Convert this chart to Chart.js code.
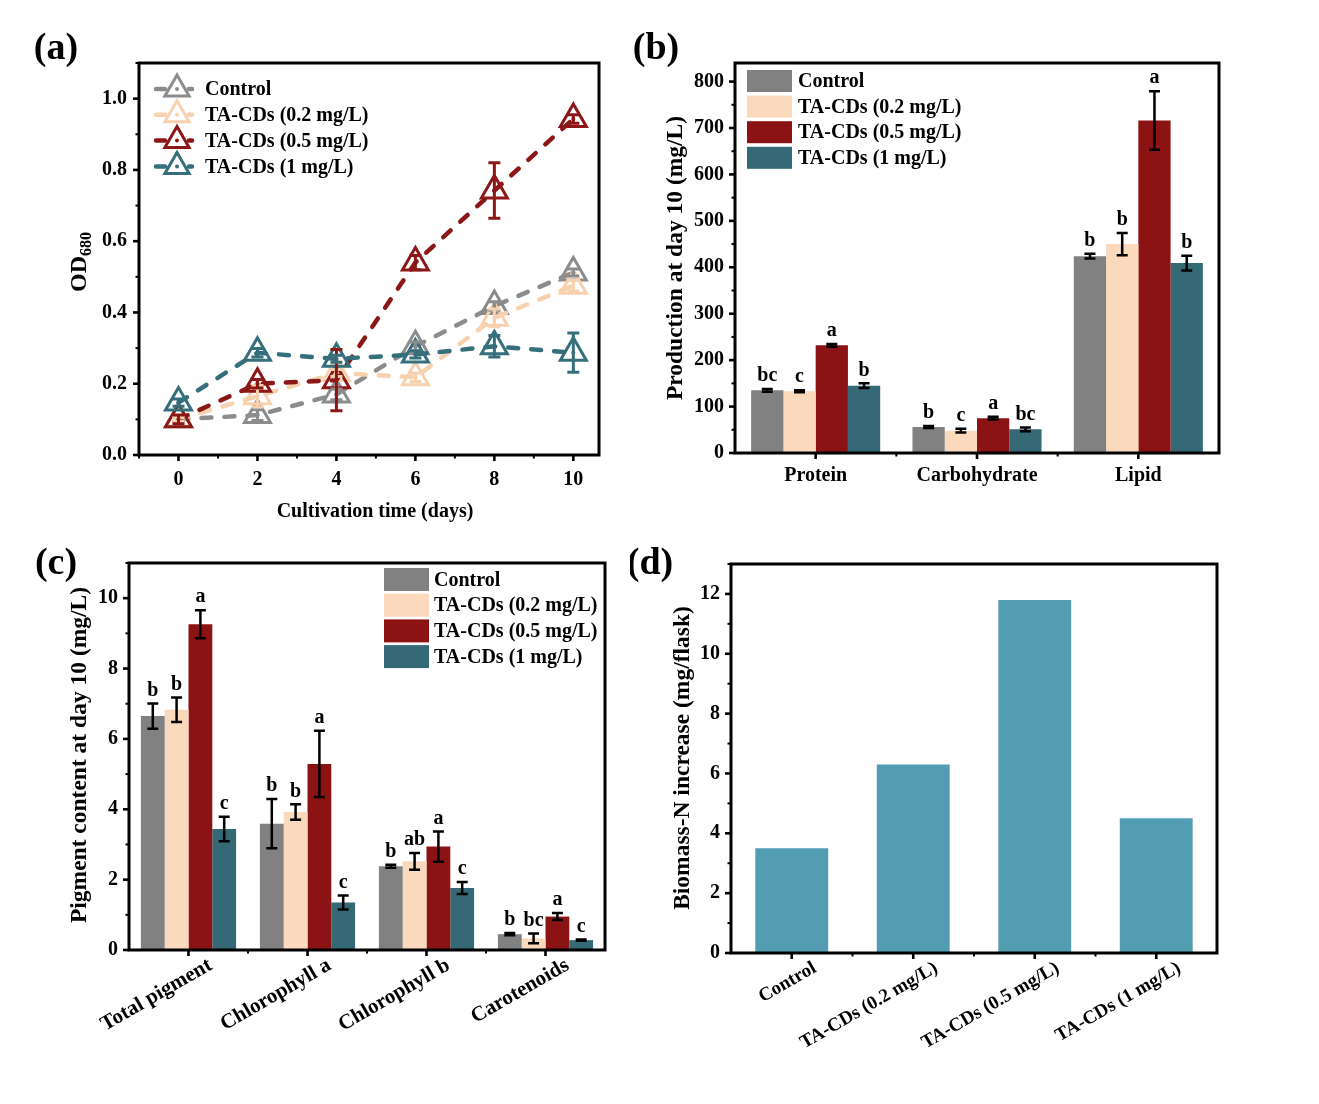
<!DOCTYPE html>
<html>
<head>
<meta charset="utf-8">
<title>TA-CDs growth and composition</title>
<script src="https://cdn.jsdelivr.net/npm/chart.js@4.4.1/dist/chart.umd.min.js"></script>
<style>
  html, body { margin: 0; padding: 0; background: #fff; }
  #figure { position: relative; width: 1319px; height: 1104px; overflow: hidden; background: #fff; }
  #figure canvas { position: absolute; }
</style>
</head>
<body>
<div id="figure">
  <canvas id="panelA" width="630" height="540" style="left:0;top:0;width:630px;height:540px"></canvas>
  <canvas id="panelB" width="689" height="540" style="left:630px;top:0;width:689px;height:540px"></canvas>
  <canvas id="panelC" width="630" height="564" style="left:0;top:540px;width:630px;height:564px"></canvas>
  <canvas id="panelD" width="689" height="564" style="left:630px;top:540px;width:689px;height:564px"></canvas>
</div>
<script>
const FONT = '"Liberation Serif", "Times New Roman", serif';

/* ================================
   Data
================================ */
const SERIES_NAMES = ['Control', 'TA-CDs (0.2 mg/L)', 'TA-CDs (0.5 mg/L)', 'TA-CDs (1 mg/L)'];

// (a) OD680 vs cultivation time
const DAYS = [0, 2, 4, 6, 8, 10];
const OD_TICKS = [0, 0.2, 0.4, 0.6, 0.8, 1.0];
const odControl = [0.10, 0.112, 0.17, 0.305, 0.418, 0.512];
const odTa02 = [0.10, 0.165, 0.23, 0.218, 0.385, 0.475];
const odTa05 = [0.10, 0.20, 0.21, 0.54, 0.742, 0.943];
const odTa1 = [0.147, 0.287, 0.27, 0.282, 0.305, 0.287];
const odControlErr = [0.005, 0.015, 0.015, 0.012, 0.012, 0.01];
const odTa02Err = [0.005, 0.03, 0.01, 0.012, 0.025, 0.015];
const odTa05Err = [0.012, 0.012, 0.086, 0.02, 0.078, 0.012];
const odTa1Err = [0.01, 0.012, 0.01, 0.01, 0.03, 0.055];

// (b) production at day 10
const COMPONENTS = ['Protein', 'Carbohydrate', 'Lipid'];
const PROD_TICKS = [0, 100, 200, 300, 400, 500, 600, 700, 800];
const prodControl = [135, 56, 424];
const prodTa02 = [133, 48, 450];
const prodTa05 = [232, 75, 716];
const prodTa1 = [145, 51, 409];
const prodControlErr = [3, 2, 5];
const prodTa02Err = [2, 4, 24];
const prodTa05Err = [3, 3, 63];
const prodTa1Err = [5, 4, 16];
const prodControlSig = ['bc', 'b', 'b'];
const prodTa02Sig = ['c', 'c', 'b'];
const prodTa05Sig = ['a', 'a', 'a'];
const prodTa1Sig = ['b', 'bc', 'b'];

// (c) pigment content at day 10
const PIGMENTS = ['Total pigment', 'Chlorophyll a', 'Chlorophyll b', 'Carotenoids'];
const PIG_TICKS = [0, 2, 4, 6, 8, 10];
const pigControl = [6.65, 3.59, 2.38, 0.45];
const pigTa02 = [6.83, 3.92, 2.52, 0.33];
const pigTa05 = [9.26, 5.29, 2.94, 0.95];
const pigTa1 = [3.44, 1.35, 1.76, 0.28];
const pigControlErr = [0.36, 0.70, 0.04, 0.03];
const pigTa02Err = [0.35, 0.22, 0.24, 0.14];
const pigTa05Err = [0.40, 0.94, 0.43, 0.10];
const pigTa1Err = [0.35, 0.20, 0.17, 0.02];
const pigControlSig = ['b', 'b', 'b', 'b'];
const pigTa02Sig = ['b', 'b', 'ab', 'bc'];
const pigTa05Sig = ['a', 'a', 'a', 'a'];
const pigTa1Sig = ['c', 'c', 'c', 'c'];

// (d) biomass-N increase
const BIOMASS_TICKS = [0, 2, 4, 6, 8, 10, 12];
const biomassN = [3.5, 6.3, 11.8, 4.5];

const LINE_COLORS = ['#8c8c8c', '#f8d1af', '#8b1717', '#356f7c'];
const BAR_COLORS = ['#818181', '#fad9bd', '#8c1314', '#346975'];
const BIOMASS_COLOR = '#539db3';

/* ================================
   Helpers
================================ */
function fixedAxis(size) {
  return s => { if (s.isHorizontal()) s.height = size; else s.width = size; };
}

function setTicks(values) {
  return s => { s.ticks = values.map(v => ({ value: v })); };
}

function boldFont(size) {
  return { family: FONT, size: size, weight: 'bold' };
}

function linearAxis(min, max, values, boxSize, pad, fmt) {
  return {
    type: 'linear', min: min, max: max,
    afterBuildTicks: setTicks(values),
    afterFit: fixedAxis(boxSize),
    grid: { display: false, drawTicks: false },
    border: { display: false },
    ticks: { color: '#000', font: boldFont(20), padding: pad, callback: fmt }
  };
}

function categoryAxis(boxSize, pad, rotation, offset, size) {
  return {
    type: 'category',
    afterFit: fixedAxis(boxSize),
    grid: { display: false, drawTicks: false },
    border: { display: false },
    ticks: {
      color: '#000', font: boldFont(size), padding: pad, autoSkip: false,
      minRotation: rotation, maxRotation: rotation, labelOffset: offset
    }
  };
}

function triangle(ctx, x, y, r) {
  ctx.beginPath();
  for (let k = 0; k < 3; k++) {
    const a = k * 2 * Math.PI / 3;
    const px = x + Math.sin(a) * r, py = y - Math.cos(a) * r;
    if (k === 0) ctx.moveTo(px, py); else ctx.lineTo(px, py);
  }
  ctx.closePath();
}

/* ================================
   Plugins
================================ */
// frame plus outward major / minor ticks
const axisFrame = {
  id: 'axisFrame',
  afterDraw(chart) {
    const { ctx, chartArea: a, scales } = chart;
    ctx.save();
    ctx.strokeStyle = '#000';
    ['x', 'y'].forEach(id => {
      const s = scales[id];
      const marks = [];
      if (s.type === 'category') {
        const px = s.ticks.map((t, i) => s.getPixelForTick(i));
        px.forEach(p => marks.push([p, true]));
        for (let i = 0; i < px.length - 1; i++) marks.push([(px[i] + px[i + 1]) / 2, false]);
      } else {
        const vals = s.ticks.map(t => t.value);
        vals.forEach(v => marks.push([s.getPixelForValue(v), true]));
        const step = vals[1] - vals[0];
        for (let v = vals[0] - step / 2; v <= s.max + 1e-9; v += step) {
          if (v >= s.min - 1e-9) marks.push([s.getPixelForValue(v), false]);
        }
      }
      marks.forEach(([p, major]) => {
        const len = major ? 6 : 3.5;
        ctx.lineWidth = major ? 2.6 : 2;
        ctx.beginPath();
        if (id === 'x') { ctx.moveTo(p, a.bottom); ctx.lineTo(p, a.bottom + len); }
        else { ctx.moveTo(a.left, p); ctx.lineTo(a.left - len, p); }
        ctx.stroke();
      });
    });
    ctx.lineWidth = 3;
    ctx.strokeRect(a.left, a.top, a.right - a.left, a.bottom - a.top);
    ctx.restore();
  }
};

// error bars, significance letters, centre dots of the triangles
const errorMarks = {
  id: 'errorMarks',
  afterDatasetsDraw(chart) {
    const { ctx } = chart;
    const ys = chart.scales.y;
    const isLine = chart.config.type === 'line';
    ctx.save();
    chart.data.datasets.forEach((ds, i) => {
      if (!ds.errors) return;
      const meta = chart.getDatasetMeta(i);
      meta.data.forEach((el, j) => {
        const v = isLine ? ds.data[j].y : ds.data[j];
        const e = ds.errors[j];
        const top = ys.getPixelForValue(v + e);
        const bot = ys.getPixelForValue(v - e);
        const cap = isLine ? 6 : 5.5;
        ctx.strokeStyle = isLine ? ds.borderColor : '#000';
        ctx.lineWidth = isLine ? 3 : 2.5;
        ctx.beginPath();
        ctx.moveTo(el.x, top); ctx.lineTo(el.x, bot);
        ctx.moveTo(el.x - cap, top); ctx.lineTo(el.x + cap, top);
        ctx.moveTo(el.x - cap, bot); ctx.lineTo(el.x + cap, bot);
        ctx.stroke();
        if (isLine) {
          ctx.fillStyle = ds.borderColor;
          ctx.beginPath(); ctx.arc(el.x, el.y, 2, 0, Math.PI * 2); ctx.fill();
        }
        if (ds.letters) {
          ctx.fillStyle = '#000';
          ctx.font = `bold 20px ${FONT}`;
          ctx.textAlign = 'center';
          ctx.textBaseline = 'bottom';
          ctx.fillText(ds.letters[j], el.x, top - 3);
        }
      });
    });
    ctx.restore();
  }
};

// legend drawn inside the plot frame
const insideLegend = {
  id: 'insideLegend',
  afterDraw(chart, args, o) {
    if (!o || !o.kind) return;
    const { ctx } = chart;
    ctx.save();
    ctx.font = `bold 20px ${FONT}`;
    ctx.textAlign = 'left';
    ctx.textBaseline = 'middle';
    chart.data.datasets.forEach((ds, i) => {
      const cy = o.y + i * o.pitch;
      if (o.kind === 'box') {
        ctx.fillStyle = ds.backgroundColor;
        ctx.fillRect(o.boxX, cy - o.boxH / 2, o.boxW, o.boxH);
      } else {
        ctx.strokeStyle = ds.borderColor;
        ctx.lineCap = 'round';
        ctx.lineWidth = 4.5;
        ctx.beginPath();
        ctx.moveTo(o.lineX1, cy); ctx.lineTo(o.markX - 12, cy);
        ctx.moveTo(o.markX + 12, cy); ctx.lineTo(o.lineX2, cy);
        ctx.stroke();
        ctx.lineWidth = 3;
        ctx.lineCap = 'butt';
        triangle(ctx, o.markX, cy, 14);
        ctx.stroke();
        ctx.fillStyle = ds.borderColor;
        ctx.beginPath(); ctx.arc(o.markX, cy, 2, 0, Math.PI * 2); ctx.fill();
      }
      ctx.fillStyle = '#000';
      ctx.fillText(ds.label, o.textX, cy + 1);
    });
    ctx.restore();
  }
};

// panel tag and axis titles
const panelText = {
  id: 'panelText',
  afterDraw(chart, args, o) {
    const { ctx } = chart;
    ctx.save();
    ctx.fillStyle = '#000';
    ctx.textBaseline = 'middle';
    ctx.textAlign = 'center';
    ctx.font = `bold 38px ${FONT}`;
    ctx.fillText(o.tag, o.tagX, o.tagY);
    if (o.xTitle) {
      ctx.font = `bold 20px ${FONT}`;
      ctx.fillText(o.xTitle, o.xX, o.xY);
    }
    ctx.translate(o.yX, o.yY);
    ctx.rotate(-Math.PI / 2);
    if (o.ySub) {
      ctx.font = `bold 24px ${FONT}`;
      const w1 = ctx.measureText(o.yTitle).width;
      ctx.font = `bold 16px ${FONT}`;
      const w2 = ctx.measureText(o.ySub).width;
      const x0 = -(w1 + w2) / 2;
      ctx.textAlign = 'left';
      ctx.font = `bold 24px ${FONT}`;
      ctx.fillText(o.yTitle, x0, 0);
      ctx.font = `bold 16px ${FONT}`;
      ctx.fillText(o.ySub, x0 + w1, 7);
    } else {
      ctx.font = `bold 23.5px ${FONT}`;
      ctx.fillText(o.yTitle, 0, 0);
    }
    ctx.restore();
  }
};

const PLUGINS = [axisFrame, errorMarks, insideLegend, panelText];

/* ================================
   Charts
================================ */
Chart.defaults.font.family = FONT;

// (a)
const odSeries = [odControl, odTa02, odTa05, odTa1];
const odErrors = [odControlErr, odTa02Err, odTa05Err, odTa1Err];

new Chart(document.getElementById('panelA'), {
  type: 'line',
  data: {
    datasets: odSeries.map((vals, i) => ({
      label: SERIES_NAMES[i],
      data: DAYS.map((d, k) => ({ x: d, y: vals[k] })),
      errors: odErrors[i],
      order: 3 - i,
      borderColor: LINE_COLORS[i],
      borderWidth: 4.5,
      borderDash: [10, 13],
      borderCapStyle: 'round',
      tension: 0,
      fill: false,
      pointStyle: 'triangle',
      pointRadius: 15,
      pointBorderWidth: 3,
      pointBorderColor: LINE_COLORS[i],
      pointBackgroundColor: 'rgba(0,0,0,0)'
    }))
  },
  options: {
    responsive: false,
    animation: false,
    layout: { padding: { top: 63, right: 31, left: 0, bottom: 0 } },
    plugins: {
      legend: { display: false },
      tooltip: { enabled: false },
      insideLegend: { kind: 'line', lineX1: 156, lineX2: 192, markX: 177, textX: 205, y: 89, pitch: 25.8 },
      panelText: { tag: '(a)', tagX: 56, tagY: 49, yTitle: 'OD', ySub: '680', yX: 80, yY: 262,
                   xTitle: 'Cultivation time (days)', xX: 375, xY: 512 }
    },
    scales: {
      x: linearAxis(-1, 10.65, DAYS, 85, 13, v => String(v)),
      y: linearAxis(0, 1.1, OD_TICKS, 139, 12, v => v.toFixed(1))
    }
  },
  plugins: PLUGINS
});

// (b)
const prodSeries = [prodControl, prodTa02, prodTa05, prodTa1];
const prodErrors = [prodControlErr, prodTa02Err, prodTa05Err, prodTa1Err];
const prodLetters = [prodControlSig, prodTa02Sig, prodTa05Sig, prodTa1Sig];

new Chart(document.getElementById('panelB'), {
  type: 'bar',
  data: {
    labels: COMPONENTS,
    datasets: prodSeries.map((vals, i) => ({
      label: SERIES_NAMES[i],
      data: vals,
      errors: prodErrors[i],
      letters: prodLetters[i],
      backgroundColor: BAR_COLORS[i],
      borderWidth: 0,
      barPercentage: 1,
      categoryPercentage: 0.8
    }))
  },
  options: {
    responsive: false,
    animation: false,
    layout: { padding: { top: 63, right: 100, left: 0, bottom: 0 } },
    plugins: {
      legend: { display: false },
      tooltip: { enabled: false },
      insideLegend: { kind: 'box', boxX: 117, boxW: 45, boxH: 22, textX: 168, y: 81, pitch: 25.6 },
      panelText: { tag: '(b)', tagX: 26, tagY: 49, yTitle: 'Production at day 10 (mg/L)', yX: 46, yY: 258 }
    },
    scales: {
      x: categoryAxis(87, 11, 0, 0, 20),
      y: linearAxis(0, 840, PROD_TICKS, 105, 11, v => String(v))
    }
  },
  plugins: PLUGINS
});

// (c)
const pigSeries = [pigControl, pigTa02, pigTa05, pigTa1];
const pigErrors = [pigControlErr, pigTa02Err, pigTa05Err, pigTa1Err];
const pigLetters = [pigControlSig, pigTa02Sig, pigTa05Sig, pigTa1Sig];

new Chart(document.getElementById('panelC'), {
  type: 'bar',
  data: {
    labels: PIGMENTS,
    datasets: pigSeries.map((vals, i) => ({
      label: SERIES_NAMES[i],
      data: vals,
      errors: pigErrors[i],
      letters: pigLetters[i],
      backgroundColor: BAR_COLORS[i],
      borderWidth: 0,
      barPercentage: 1,
      categoryPercentage: 0.8
    }))
  },
  options: {
    responsive: false,
    animation: false,
    layout: { padding: { top: 18, right: 25, left: 0, bottom: 0 } },
    plugins: {
      legend: { display: false },
      tooltip: { enabled: false },
      insideLegend: { kind: 'box', boxX: 384, boxW: 45, boxH: 23, textX: 434, y: 39.5, pitch: 25.7 },
      panelText: { tag: '(c)', tagX: 56, tagY: 24, yTitle: 'Pigment content at day 10 (mg/L)', yX: 80, yY: 215 }
    },
    scales: {
      x: categoryAxis(154, 3, 30, 22, 21),
      y: linearAxis(0, 11, PIG_TICKS, 129, 11, v => String(v))
    }
  },
  plugins: PLUGINS
});

// (d)
new Chart(document.getElementById('panelD'), {
  type: 'bar',
  data: {
    labels: SERIES_NAMES,
    datasets: [{
      label: 'Biomass-N increase',
      data: biomassN,
      backgroundColor: BIOMASS_COLOR,
      borderWidth: 0,
      barPercentage: 0.6,
      categoryPercentage: 1
    }]
  },
  options: {
    responsive: false,
    animation: false,
    layout: { padding: { top: 24, right: 102, left: 0, bottom: 0 } },
    plugins: {
      legend: { display: false },
      tooltip: { enabled: false },
      panelText: { tag: '(d)', tagX: 20, tagY: 24, yTitle: 'Biomass-N increase (mg/flask)', yX: 53, yY: 218 }
    },
    scales: {
      x: categoryAxis(151, 4, 30, 23, 19),
      y: linearAxis(0, 13, BIOMASS_TICKS, 101, 11, v => String(v))
    }
  },
  plugins: PLUGINS
});
</script>
</body>
</html>
